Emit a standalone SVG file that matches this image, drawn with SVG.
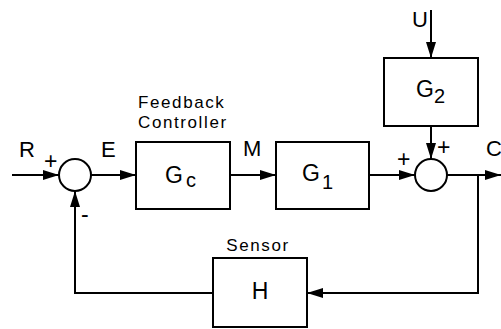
<svg xmlns="http://www.w3.org/2000/svg" width="501" height="329" viewBox="0 0 501 329">
<style>
.box{fill:#fff;stroke:#000;stroke-width:2}
.sum{fill:#fff;stroke:#000;stroke-width:2}
.ln{fill:none;stroke:#000;stroke-width:2}
text{font-family:"Liberation Sans",Arial,sans-serif;fill:#000}
.lab{font-size:22px}
.sm{font-size:17px;letter-spacing:1.6px}
.g{font-size:23px}
.sub{font-size:20px}
.sign{font-size:23px}
</style>
<defs>
<marker id="ah" markerUnits="userSpaceOnUse" markerWidth="17" markerHeight="11" refX="16" refY="5.5" orient="auto">
<path d="M0,0.5 L16,5.5 L0,10.5 z" fill="#000"/>
</marker>
</defs>
<rect width="501" height="329" fill="#fff"/>
<g id="connectors">
<line class="ln" x1="12" y1="175" x2="59" y2="175" marker-end="url(#ah)"/>
<line class="ln" x1="91" y1="175" x2="136" y2="175" marker-end="url(#ah)"/>
<line class="ln" x1="230" y1="175" x2="276" y2="175" marker-end="url(#ah)"/>
<line class="ln" x1="369" y1="175" x2="415" y2="175" marker-end="url(#ah)"/>
<line class="ln" x1="431" y1="10" x2="431" y2="58" marker-end="url(#ah)"/>
<line class="ln" x1="431" y1="126" x2="431" y2="159" marker-end="url(#ah)"/>
<line class="ln" x1="447" y1="175" x2="501" y2="175" marker-end="url(#ah)"/>
<polyline class="ln" points="478,175 478,293 307,293" marker-end="url(#ah)"/>
<polyline class="ln" points="213,293 75,293 75,191" marker-end="url(#ah)"/>
</g>
<g id="sum1"><circle class="sum" cx="75" cy="175" r="16"/>
<text class="sign" x="44" y="169">+</text><text class="sign" x="81" y="222">-</text></g>
<g id="sum2"><circle class="sum" cx="431" cy="175" r="16"/>
<text class="sign" x="397" y="167">+</text><text class="sign" x="437" y="155">+</text></g>
<g id="Gc"><rect class="box" x="136" y="142" width="94" height="67"/>
<text class="g" x="165" y="183">G</text><text class="sub" x="186" y="187">c</text></g>
<g id="G1"><rect class="box" x="276" y="142" width="93" height="67"/>
<text class="g" x="302" y="181">G</text><text class="sub" x="322" y="189">1</text></g>
<g id="G2"><rect class="box" x="384" y="58" width="94" height="68"/>
<text class="g" x="416" y="97">G</text><text class="sub" x="434" y="103">2</text></g>
<g id="H"><rect class="box" x="213" y="258" width="94" height="69"/>
<text class="g" x="260" y="299" text-anchor="middle">H</text></g>
<g id="labels">
<text class="lab" x="19" y="157">R</text>
<text class="lab" x="101" y="157">E</text>
<text class="lab" x="243" y="156">M</text>
<text class="lab" x="486" y="156">C</text>
<text class="lab" x="412" y="27">U</text>
<text class="sm" x="138" y="108">Feedback</text>
<text class="sm" x="138" y="128">Controller</text>
<text class="sm" x="258" y="251" text-anchor="middle">Sensor</text>
</g>
</svg>
